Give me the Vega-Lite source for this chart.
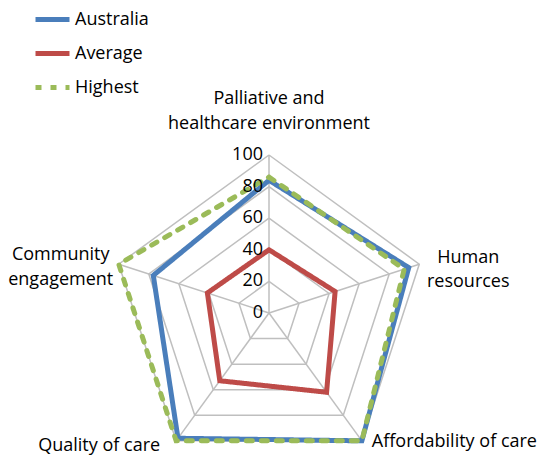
{
  "$schema": "https://vega.github.io/schema/vega-lite/v6.json",
  "width": 540,
  "height": 455,
  "autosize": "none",
  "padding": 0,
  "background": "white",
  "config": {"view": {"stroke": null}, "font": "Open Sans"},
  "datasets": {
    "series": [
      {"series": "Australia", "axis": "Palliative and healthcare environment", "k": 0, "value": 84},
      {"series": "Australia", "axis": "Human resources", "k": 1, "value": 93},
      {"series": "Australia", "axis": "Affordability of care", "k": 2, "value": 100},
      {"series": "Australia", "axis": "Quality of care", "k": 3, "value": 98},
      {"series": "Australia", "axis": "Community engagement", "k": 4, "value": 77},
      {"series": "Australia", "axis": "Palliative and healthcare environment", "k": 5, "value": 84},
      {"series": "Average", "axis": "Palliative and healthcare environment", "k": 0, "value": 40},
      {"series": "Average", "axis": "Human resources", "k": 1, "value": 44},
      {"series": "Average", "axis": "Affordability of care", "k": 2, "value": 62},
      {"series": "Average", "axis": "Quality of care", "k": 3, "value": 53},
      {"series": "Average", "axis": "Community engagement", "k": 4, "value": 41},
      {"series": "Average", "axis": "Palliative and healthcare environment", "k": 5, "value": 40},
      {"series": "Highest", "axis": "Palliative and healthcare environment", "k": 0, "value": 86},
      {"series": "Highest", "axis": "Human resources", "k": 1, "value": 90},
      {"series": "Highest", "axis": "Affordability of care", "k": 2, "value": 100},
      {"series": "Highest", "axis": "Quality of care", "k": 3, "value": 100},
      {"series": "Highest", "axis": "Community engagement", "k": 4, "value": 100},
      {"series": "Highest", "axis": "Palliative and healthcare environment", "k": 5, "value": 86}
    ],
    "grid": [
      {"level": 20, "k": 0, "value": 20}, {"level": 20, "k": 1, "value": 20}, {"level": 20, "k": 2, "value": 20}, {"level": 20, "k": 3, "value": 20}, {"level": 20, "k": 4, "value": 20}, {"level": 20, "k": 5, "value": 20},
      {"level": 40, "k": 0, "value": 40}, {"level": 40, "k": 1, "value": 40}, {"level": 40, "k": 2, "value": 40}, {"level": 40, "k": 3, "value": 40}, {"level": 40, "k": 4, "value": 40}, {"level": 40, "k": 5, "value": 40},
      {"level": 60, "k": 0, "value": 60}, {"level": 60, "k": 1, "value": 60}, {"level": 60, "k": 2, "value": 60}, {"level": 60, "k": 3, "value": 60}, {"level": 60, "k": 4, "value": 60}, {"level": 60, "k": 5, "value": 60},
      {"level": 80, "k": 0, "value": 80}, {"level": 80, "k": 1, "value": 80}, {"level": 80, "k": 2, "value": 80}, {"level": 80, "k": 3, "value": 80}, {"level": 80, "k": 4, "value": 80}, {"level": 80, "k": 5, "value": 80},
      {"level": 100, "k": 0, "value": 100}, {"level": 100, "k": 1, "value": 100}, {"level": 100, "k": 2, "value": 100}, {"level": 100, "k": 3, "value": 100}, {"level": 100, "k": 4, "value": 100}, {"level": 100, "k": 5, "value": 100}
    ],
    "spokes": [
      {"k": 0, "value": 100}, {"k": 1, "value": 100}, {"k": 2, "value": 100}, {"k": 3, "value": 100}, {"k": 4, "value": 100}
    ],
    "ticks": [
      {"k": 0, "value": 0}, {"k": 0, "value": 20}, {"k": 0, "value": 40}, {"k": 0, "value": 60}, {"k": 0, "value": 80}, {"k": 0, "value": 100}
    ],
    "labels": [
      {"label": "Palliative and\nhealthcare environment", "k": 0, "value": 100},
      {"label": "Human\nresources", "k": 1, "value": 100},
      {"label": "Affordability of care", "k": 2, "value": 100},
      {"label": "Quality of care", "k": 3, "value": 100},
      {"label": "Community\nengagement", "k": 4, "value": 100}
    ]
  },
  "encoding": {
    "x": {"field": "x", "type": "quantitative", "scale": {"domain": [-100, 100], "range": [111, 427], "nice": false, "zero": false}, "axis": null},
    "y": {"field": "y", "type": "quantitative", "scale": {"domain": [-100, 100], "range": [471, 155], "nice": false, "zero": false}, "axis": null}
  },
  "layer": [
    {
      "data": {"name": "grid"},
      "transform": [
        {"calculate": "PI/2 - datum.k*2*PI/5", "as": "a"},
        {"calculate": "datum.value*cos(datum.a)", "as": "x"},
        {"calculate": "datum.value*sin(datum.a)", "as": "y"}
      ],
      "mark": {"type": "line", "color": "#bfbfbf", "strokeWidth": 1.5},
      "encoding": {"detail": {"field": "level"}, "order": {"field": "k"}}
    },
    {
      "data": {"name": "spokes"},
      "transform": [
        {"calculate": "PI/2 - datum.k*2*PI/5", "as": "a"},
        {"calculate": "datum.value*cos(datum.a)", "as": "x"},
        {"calculate": "datum.value*sin(datum.a)", "as": "y"}
      ],
      "mark": {"type": "rule", "color": "#bfbfbf", "strokeWidth": 1.5},
      "encoding": {"x2": {"datum": 0}, "y2": {"datum": 0}}
    },
    {
      "data": {"name": "series"},
      "transform": [
        {"calculate": "PI/2 - datum.k*2*PI/5", "as": "a"},
        {"calculate": "datum.value*cos(datum.a)", "as": "x"},
        {"calculate": "datum.value*sin(datum.a)", "as": "y"}
      ],
      "mark": {"type": "line", "strokeWidth": 5, "strokeCap": "round", "strokeJoin": "miter"},
      "encoding": {
        "order": {"field": "k"},
        "color": {
          "field": "series", "type": "nominal",
          "scale": {"domain": ["Australia", "Average", "Highest"], "range": ["#4a7ebb", "#be4b48", "#9bbb59"]},
          "legend": {
            "title": null, "orient": "none", "legendX": 33, "legendY": 0, "padding": 0,
            "symbolType": "stroke", "symbolSize": 1156, "symbolStrokeWidth": 5,
            "labelFontSize": 18, "labelFont": "Open Sans", "labelColor": "#000000", "labelOffset": 3, "rowPadding": 4
          }
        },
        "strokeDash": {
          "field": "series", "type": "nominal",
          "scale": {"domain": ["Australia", "Average", "Highest"], "range": [[1, 0], [1, 0], [6, 9]]},
          "legend": {
            "title": null, "orient": "none", "legendX": 33, "legendY": 0, "padding": 0,
            "symbolType": "stroke", "symbolSize": 1156, "symbolStrokeWidth": 5,
            "labelFontSize": 18, "labelFont": "Open Sans", "labelColor": "#000000", "labelOffset": 3, "rowPadding": 4
          }
        }
      }
    },
    {
      "data": {"name": "ticks"},
      "transform": [
        {"calculate": "0", "as": "x"},
        {"calculate": "datum.value", "as": "y"}
      ],
      "mark": {"type": "text", "align": "right", "baseline": "middle", "dx": -6, "fontSize": 18, "color": "#000000"},
      "encoding": {"text": {"field": "value", "type": "quantitative"}}
    },
    {
      "data": {"name": "labels"},
      "transform": [
        {"filter": "datum.k == 0"},
        {"calculate": "PI/2 - datum.k*2*PI/5", "as": "a"},
        {"calculate": "datum.value*cos(datum.a)", "as": "x"},
        {"calculate": "datum.value*sin(datum.a)", "as": "y"}
      ],
      "mark": {"type": "text", "align": "center", "baseline": "middle", "dy": -56, "fontSize": 18, "lineHeight": 25, "lineBreak": "\n", "color": "#000000"},
      "encoding": {"text": {"field": "label"}}
    },
    {
      "data": {"name": "labels"},
      "transform": [
        {"filter": "datum.k == 1"},
        {"calculate": "PI/2 - datum.k*2*PI/5", "as": "a"},
        {"calculate": "datum.value*cos(datum.a)", "as": "x"},
        {"calculate": "datum.value*sin(datum.a)", "as": "y"}
      ],
      "mark": {"type": "text", "align": "center", "baseline": "middle", "dx": 49, "dy": -6, "fontSize": 18, "lineHeight": 24, "lineBreak": "\n", "color": "#000000"},
      "encoding": {"text": {"field": "label"}}
    },
    {
      "data": {"name": "labels"},
      "transform": [
        {"filter": "datum.k == 2"},
        {"calculate": "PI/2 - datum.k*2*PI/5", "as": "a"},
        {"calculate": "datum.value*cos(datum.a)", "as": "x"},
        {"calculate": "datum.value*sin(datum.a)", "as": "y"}
      ],
      "mark": {"type": "text", "align": "left", "baseline": "middle", "dx": 10, "dy": 1, "fontSize": 18, "color": "#000000"},
      "encoding": {"text": {"field": "label"}}
    },
    {
      "data": {"name": "labels"},
      "transform": [
        {"filter": "datum.k == 3"},
        {"calculate": "PI/2 - datum.k*2*PI/5", "as": "a"},
        {"calculate": "datum.value*cos(datum.a)", "as": "x"},
        {"calculate": "datum.value*sin(datum.a)", "as": "y"}
      ],
      "mark": {"type": "text", "align": "right", "baseline": "middle", "dx": -16, "dy": 5, "fontSize": 18, "color": "#000000"},
      "encoding": {"text": {"field": "label"}}
    },
    {
      "data": {"name": "labels"},
      "transform": [
        {"filter": "datum.k == 4"},
        {"calculate": "PI/2 - datum.k*2*PI/5", "as": "a"},
        {"calculate": "datum.value*cos(datum.a)", "as": "x"},
        {"calculate": "datum.value*sin(datum.a)", "as": "y"}
      ],
      "mark": {"type": "text", "align": "center", "baseline": "middle", "dx": -58, "dy": -9, "fontSize": 18, "lineHeight": 25, "lineBreak": "\n", "color": "#000000"},
      "encoding": {"text": {"field": "label"}}
    }
  ]
}
